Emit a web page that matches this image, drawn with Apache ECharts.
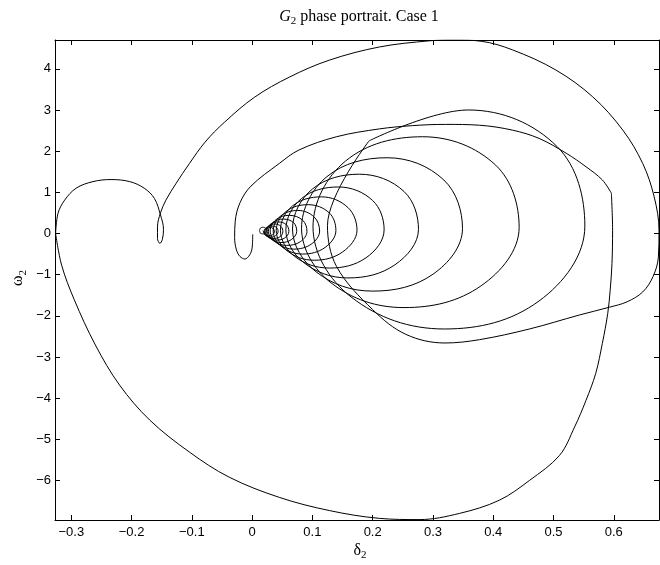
<!DOCTYPE html>
<html>
<head>
<meta charset="utf-8">
<script src="https://cdn.jsdelivr.net/npm/echarts@6/dist/echarts.min.js"></script>
<style>
  html, body { margin: 0; padding: 0; background: #fff; }
  #chart { width: 660px; height: 565px; }
</style>
</head>
<body>
<div id="chart"></div>
<script>
// Axis ticks and limits
const deltaTicks = [-0.3, -0.2, -0.1, 0, 0.1, 0.2, 0.3, 0.4, 0.5, 0.6];
const omegaTicks = [-6, -5, -4, -3, -2, -1, 0, 1, 2, 3, 4];
const deltaRange = [-0.327, 0.675];
const omegaRange = [-6.96, 4.70];

// First swing: leaves the pre-fault point, dips, then rises to the switching corner
const firstSwing = [
  [0.001, -0.02], [0.000, -0.35], [-0.004, -0.52], [-0.012, -0.62], [-0.020, -0.56],
  [-0.026, -0.40], [-0.029, -0.10], [-0.028, 0.30], [-0.020, 0.75], [-0.002, 1.15],
  [0.045, 1.70], [0.078, 2.03], [0.140, 2.35], [0.211, 2.54], [0.266, 2.62],
  [0.321, 2.65], [0.377, 2.63], [0.432, 2.51], [0.476, 2.31], [0.521, 1.95],
  [0.554, 1.62], [0.581, 1.30], [0.596, 0.98]
];

// After switching: drop and wide back swing to the left edge
const backSwing = [
  [0.596, 0.98], [0.598, 0.08], [0.597, -0.73], [0.594, -1.38], [0.590, -1.94],
  [0.581, -2.67], [0.570, -3.40], [0.554, -4.05], [0.535, -4.70], [0.510, -5.39],
  [0.460, -6.00], [0.410, -6.48], [0.344, -6.80], [0.277, -6.95], [0.211, -6.92],
  [0.128, -6.73], [0.045, -6.41], [-0.038, -5.92], [-0.104, -5.31], [-0.170, -4.53],
  [-0.220, -3.68], [-0.260, -2.71], [-0.295, -1.61], [-0.316, -0.77], [-0.326, 0.00]
];

// Hump, small loop, and the large forward swing around the right edge
const forwardSwing = [
  [-0.326, 0.00], [-0.322, 0.49], [-0.311, 0.81], [-0.292, 1.10], [-0.264, 1.26],
  [-0.234, 1.31], [-0.203, 1.26], [-0.179, 1.10], [-0.162, 0.85], [-0.152, 0.45],
  [-0.147, 0.10], [-0.149, -0.15], [-0.153, -0.24], [-0.157, -0.12], [-0.157, 0.16],
  [-0.152, 0.50], [-0.143, 0.81], [-0.126, 1.22], [-0.104, 1.70], [-0.078, 2.22],
  [-0.046, 2.70], [0.004, 3.31], [0.062, 3.80], [0.128, 4.21], [0.211, 4.53],
  [0.294, 4.68], [0.336, 4.70], [0.380, 4.67], [0.432, 4.46], [0.504, 3.97],
  [0.565, 3.32], [0.615, 2.51], [0.648, 1.70], [0.667, 0.89], [0.675, 0.08],
  [0.674, -0.57], [0.665, -1.05], [0.648, -1.42], [0.622, -1.66], [0.593, -1.79],
  [0.543, -1.98], [0.460, -2.32], [0.377, -2.58], [0.320, -2.66], [0.255, -2.45],
  [0.200, -1.85], [0.140, -0.80], [0.125, 0.19], [0.194, 2.25]
];

// Damped loops closing in on the post-fault equilibrium
const dampedLoops = [
  [0.194, 2.25],
  [0.359, 3.00], [0.506, 2.11], [0.552, 0.18], [0.476, -1.64], [0.319, -2.32], [0.164, -1.54], [0.101, 0.16], [0.155, 1.76],
  [0.283, 2.35], [0.404, 1.66], [0.443, 0.15], [0.380, -1.27], [0.252, -1.80], [0.131, -1.20], [0.082, 0.13], [0.124, 1.38],
  [0.224, 1.84], [0.318, 1.30], [0.349, 0.12], [0.300, -0.99], [0.200, -1.40], [0.106, -0.93], [0.067, 0.11], [0.100, 1.08],
  [0.178, 1.44], [0.252, 1.02], [0.276, 0.10], [0.237, -0.76], [0.159, -1.08], [0.086, -0.71], [0.056, 0.09], [0.082, 0.85],
  [0.143, 1.13], [0.200, 0.80], [0.219, 0.09], [0.189, -0.59], [0.128, -0.84], [0.070, -0.55], [0.047, 0.08], [0.067, 0.67],
  [0.115, 0.89], [0.159, 0.63], [0.174, 0.08], [0.150, -0.45], [0.103, -0.65], [0.058, -0.42], [0.040, 0.07], [0.056, 0.53],
  [0.093, 0.70], [0.128, 0.50], [0.139, 0.07], [0.121, -0.34], [0.084, -0.50], [0.049, -0.32], [0.035, 0.06], [0.047, 0.42],
  [0.076, 0.56], [0.103, 0.40], [0.112, 0.06], [0.098, -0.26], [0.069, -0.38], [0.042, -0.24], [0.030, 0.06], [0.040, 0.34],
  [0.062, 0.44], [0.084, 0.32], [0.091, 0.05], [0.080, -0.20], [0.057, -0.29], [0.036, -0.18], [0.027, 0.05], [0.035, 0.27],
  [0.052, 0.35], [0.069, 0.26], [0.074, 0.05], [0.065, -0.15], [0.048, -0.22], [0.031, -0.13], [0.025, 0.05], [0.030, 0.22],
  [0.044, 0.28], [0.057, 0.21], [0.061, 0.05], [0.054, -0.11], [0.041, -0.16], [0.028, -0.10], [0.023, 0.04], [0.027, 0.18],
  [0.038, 0.23], [0.048, 0.17], [0.051, 0.04], [0.046, -0.08], [0.035, -0.12], [0.025, -0.07], [0.021, 0.04], [0.025, 0.15],
  [0.033, 0.18], [0.041, 0.14], [0.043, 0.04], [0.039, -0.05], [0.031, -0.09], [0.023, -0.05], [0.020, 0.04], [0.022, 0.12],
  [0.029, 0.15], [0.035, 0.12], [0.037, 0.04], [0.034, -0.03], [0.027, -0.06], [0.021, -0.03], [0.019, 0.04], [0.018, 0.07]
];

// Final operating point
const endPoint = [[0.018, 0.07]];

const chart = echarts.init(document.getElementById('chart'), null, { renderer: 'canvas' });

const sans = 'Liberation Sans, Arial, Helvetica, sans-serif';
const serif = 'Liberation Serif, Times New Roman, serif';
const tickFont = { fontFamily: sans, fontSize: 13, color: '#000' };
const minus = v => String(v).replace('-', '\u2212');
const frame = { lineStyle: { color: '#000', width: 1 } };
const trace = { color: '#000', width: 1 };
const tick = vals => ({ show: true, inside: true, length: 5, customValues: vals, lineStyle: { color: '#000' } });

chart.setOption({
  animation: false,
  backgroundColor: '#fff',
  grid: { left: 55, top: 40, width: 604, height: 480, containLabel: false },
  xAxis: [
    {
      type: 'value', min: deltaRange[0], max: deltaRange[1], position: 'bottom',
      axisLine: Object.assign({ show: true, onZero: false }, frame),
      axisTick: tick(deltaTicks),
      axisLabel: Object.assign({ show: true, margin: 6, customValues: deltaTicks, formatter: minus }, tickFont),
      splitLine: { show: false }
    },
    {
      type: 'value', min: deltaRange[0], max: deltaRange[1], position: 'top',
      axisLine: Object.assign({ show: true, onZero: false }, frame),
      axisTick: tick(deltaTicks),
      axisLabel: { show: false },
      splitLine: { show: false }
    }
  ],
  yAxis: [
    {
      type: 'value', min: omegaRange[0], max: omegaRange[1], position: 'left',
      axisLine: Object.assign({ show: true, onZero: false }, frame),
      axisTick: tick(omegaTicks),
      axisLabel: Object.assign({ show: true, margin: 4, customValues: omegaTicks, formatter: minus }, tickFont),
      splitLine: { show: false }
    },
    {
      type: 'value', min: omegaRange[0], max: omegaRange[1], position: 'right',
      axisLine: Object.assign({ show: true, onZero: false }, frame),
      axisTick: tick(omegaTicks),
      axisLabel: { show: false },
      splitLine: { show: false }
    }
  ],
  graphic: [
    {
      type: 'text', x: 359, y: 7,
      style: {
        text: '{g|G}{s|2}{t| phase portrait. Case 1}',
        align: 'center', verticalAlign: 'top',
        rich: {
          g: { fontFamily: serif, fontStyle: 'italic', fontSize: 16, fill: '#000' },
          s: { fontFamily: serif, fontSize: 11, fill: '#000', padding: [9, 0, 0, 0] },
          t: { fontFamily: serif, fontSize: 16, fill: '#000' }
        }
      }
    },
    {
      type: 'text', x: 360, y: 540,
      style: {
        text: '{d|\u03b4}{s|2}',
        align: 'center', verticalAlign: 'top',
        rich: {
          d: { fontFamily: serif, fontSize: 16, fill: '#000' },
          s: { fontFamily: serif, fontSize: 11, fill: '#000', padding: [10, 0, 0, 0] }
        }
      }
    },
    {
      type: 'text', x: 18, y: 278, rotation: Math.PI / 2,
      style: {
        text: '{d|\u03c9}{s|2}',
        align: 'center', verticalAlign: 'middle',
        rich: {
          d: { fontFamily: serif, fontSize: 16, fill: '#000' },
          s: { fontFamily: serif, fontSize: 11, fill: '#000', padding: [10, 0, 0, 0] }
        }
      }
    }
  ],
  series: [
    { type: 'line', data: firstSwing, smooth: 0.35, showSymbol: false, lineStyle: trace, silent: true },
    { type: 'line', data: backSwing, smooth: 0.35, showSymbol: false, lineStyle: trace, silent: true },
    { type: 'line', data: forwardSwing, smooth: 0.35, showSymbol: false, lineStyle: trace, silent: true },
    { type: 'line', data: dampedLoops, smooth: 0.375, showSymbol: false, lineStyle: trace, silent: true },
    {
      type: 'scatter', data: endPoint, symbol: 'circle', symbolSize: 7, silent: true,
      itemStyle: { color: 'rgba(0,0,0,0)', borderColor: '#000', borderWidth: 1 }
    }
  ]
});
</script>
</body>
</html>
